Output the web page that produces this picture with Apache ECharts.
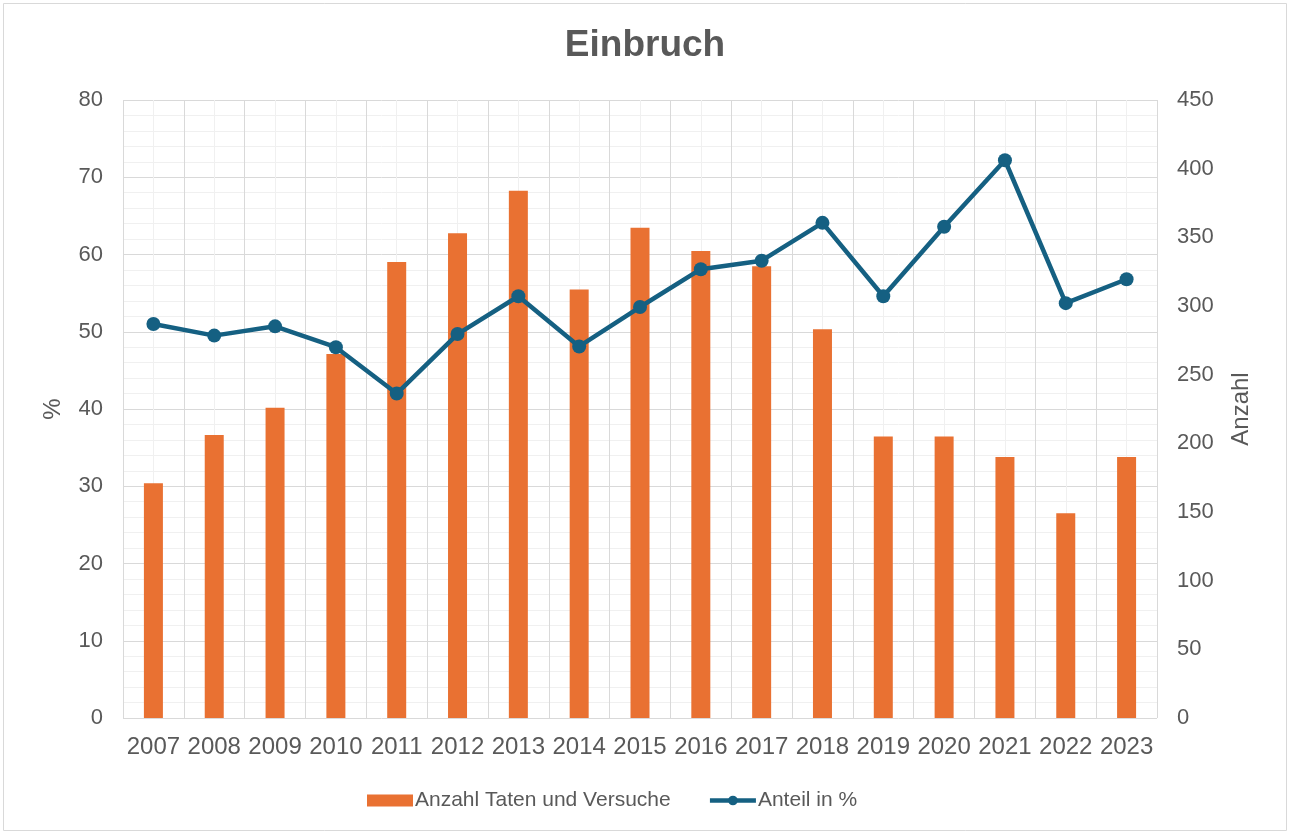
<!DOCTYPE html>
<html lang="de">
<head>
  <meta charset="UTF-8">
  <title>Einbruch</title>
  <style>
    body{margin: 0; background: #fff}
    #chart{width: 1290px; height: 834px}
  </style>
  <script src="https://cdn.jsdelivr.net/npm/echarts@6/dist/echarts.min.js"></script>
  <script>
    // Jahre
    const years = ['2007','2008','2009','2010','2011','2012','2013','2014','2015','2016','2017','2018','2019','2020','2021','2022','2023'];
    // Anzahl Taten und Versuche (rechte Achse)
    const anzahl = [171, 206, 226, 265, 332, 353, 384, 312, 357, 340, 329, 283, 205, 205, 190, 149, 190];
    // Anteil in % (linke Achse)
    const anteil = [51.0, 49.5, 50.7, 48.0, 42.0, 49.7, 54.6, 48.1, 53.2, 58.1, 59.2, 64.1, 54.6, 63.6, 72.2, 53.7, 56.8];

    const grey = '#595959';
    const font = '"Liberation Sans", Arial, sans-serif';

    window.onload = function(){
      let chart = echarts.init(document.getElementById('chart'));
      let option = {
        animation: false,
        textStyle: {fontFamily: font},
        graphic: [{
          type: 'rect',
          shape: {x: 3.5, y: 3.5, width: 1283, height: 827},
          style: {fill: 'none', stroke: '#d9d9d9', lineWidth: 1},
          silent: true
        }],
        title: {
          text: 'Einbruch',
          left: 'center',
          top: 22,
          textStyle: {fontSize: 37, fontWeight: 'bold', color: grey, fontFamily: font}
        },
        legend: {
          bottom: 18,
          left: 362,
          itemWidth: 46,
          itemHeight: 12,
          itemGap: 37,
          textStyle: {fontSize: 21, color: grey, fontFamily: font, padding: [0, 0, 0, -3]},
          data: [
            {name: 'Anzahl Taten und Versuche', icon: 'rect'},
            {name: 'Anteil in %', lineStyle: {width: 4.5}}
          ]
        },
        grid: {left: 123, right: 133, top: 100, bottom: 116},
        xAxis: [{
          type: 'category',
          data: years,
          axisLine: {show: false},
          axisTick: {show: false},
          splitLine: {show: false},
          axisLabel: {fontSize: 24, color: grey, margin: 17, interval: 0}
        }, {
          // nur fuer das Gitter: Linien an Kategoriegrenzen und -mitten
          type: 'value',
          position: 'bottom',
          min: 0,
          max: years.length,
          interval: 1,
          axisLine: {show: false},
          axisTick: {show: false},
          axisLabel: {show: false},
          splitLine: {show: true, lineStyle: {color: '#d9d9d9', width: 1}},
          minorTick: {show: false, splitNumber: 2},
          minorSplitLine: {show: true, lineStyle: {color: '#f0f0f0', width: 1}}
        }],
        yAxis: [{
          type: 'value',
          name: '%',
          nameLocation: 'middle',
          nameGap: 58,
          nameRotate: 90,
          nameTextStyle: {fontSize: 24, color: grey},
          min: 0,
          max: 80,
          interval: 10,
          axisLine: {show: false},
          axisTick: {show: false},
          axisLabel: {fontSize: 22, color: grey, margin: 20},
          splitLine: {show: true, lineStyle: {color: '#d9d9d9', width: 1}},
          minorTick: {show: false, splitNumber: 5},
          minorSplitLine: {show: true, lineStyle: {color: '#f0f0f0', width: 1}}
        }, {
          type: 'value',
          name: 'Anzahl',
          nameLocation: 'middle',
          nameGap: 72,
          nameRotate: 90,
          nameTextStyle: {fontSize: 24, color: grey},
          min: 0,
          max: 450,
          interval: 50,
          axisLine: {show: false},
          axisTick: {show: false},
          axisLabel: {fontSize: 22, color: grey, margin: 20},
          splitLine: {show: false}
        }],
        series: [{
          name: 'Anzahl Taten und Versuche',
          type: 'bar',
          xAxisIndex: 0,
          yAxisIndex: 1,
          barWidth: 19,
          itemStyle: {color: '#E97132'},
          data: anzahl
        }, {
          name: 'Anteil in %',
          type: 'line',
          xAxisIndex: 0,
          yAxisIndex: 0,
          symbol: 'circle',
          symbolSize: 14,
          lineStyle: {color: '#156082', width: 4.5},
          itemStyle: {color: '#156082'},
          data: anteil
        }]
      };
      chart.setOption(option);
    }
  </script>
</head>
<body>
  <div id="chart"></div>
</body>
</html>
